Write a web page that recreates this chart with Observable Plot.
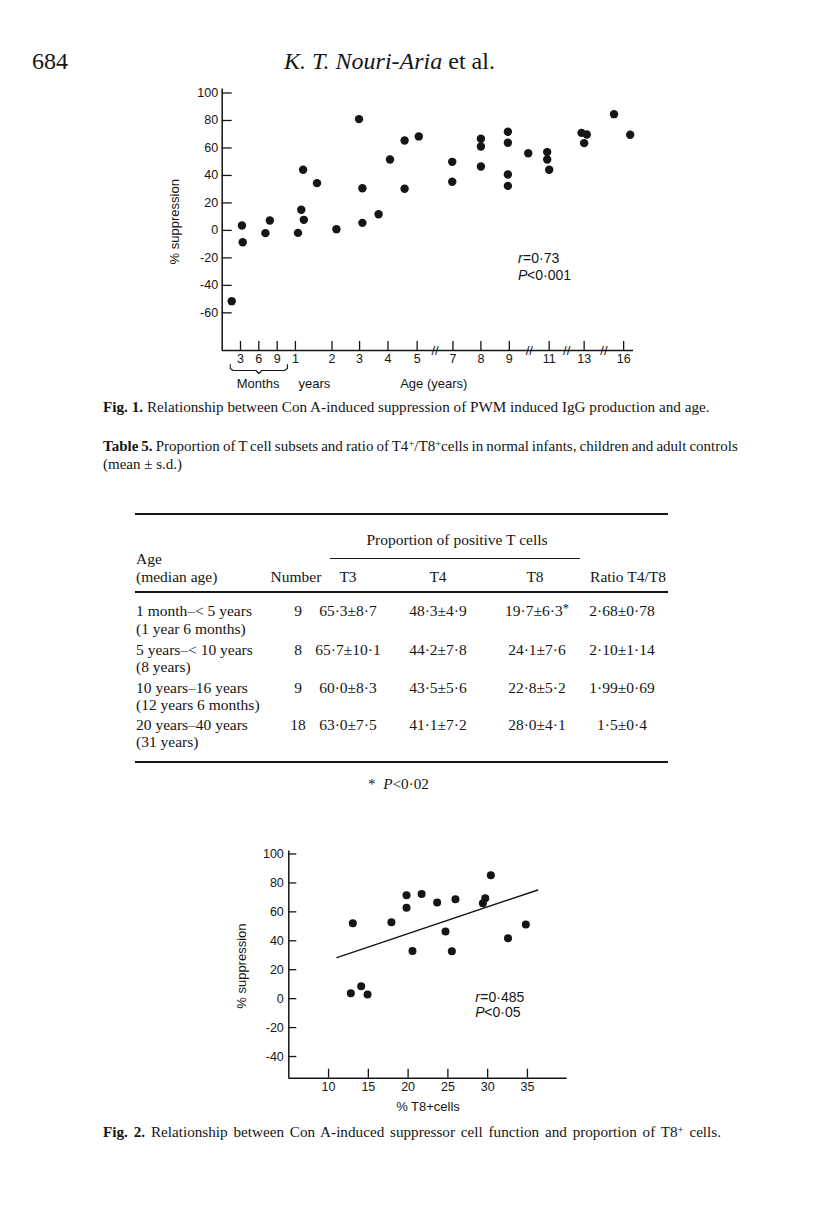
<!DOCTYPE html>
<html>
<head>
<meta charset="utf-8">
<script src="https://cdn.jsdelivr.net/npm/d3@7"></script>
<script src="https://cdn.jsdelivr.net/npm/@observablehq/plot@0.6"></script>
<style>
  html, body { margin: 0; padding: 0; background: #fff; }
  #page { position: relative; width: 816px; height: 1220px; overflow: hidden;
          font-family: "Liberation Serif", "Times New Roman", serif; color: #151515; }
  .t { position: absolute; white-space: nowrap; line-height: 1; }
  .c { text-align: center; transform: translateX(-50%); }
  .rule { position: absolute; background: #151515; }
  sup { font-size: 0.7em; vertical-align: 0; position: relative; top: -0.45em; line-height: 0; }
  #fig1, #fig2 { position: absolute; }
</style>
</head>
<body>
<div id="page">
  <div class="t" style="left:32px; top:49px; font-size:24px;">684</div>
  <div class="t" style="left:284px; top:49px; font-size:24px;"><i>K. T. Nouri-Aria</i> et al.</div>

  <div id="fig1" style="left:150px; top:80px;"></div>

  <div class="t" style="left:103px; top:399.3px; font-size:15.2px;"><b>Fig. 1.</b> Relationship between Con A-induced suppression of PWM induced IgG production and age.</div>

  <div class="t" style="left:103px; top:439.4px; font-size:15px; word-spacing:-0.7px;"><b>Table 5.</b> Proportion of T cell subsets and ratio of T4<sup>+</sup>/T8<sup>+</sup>cells in normal infants, children and adult controls</div>
  <div class="t" style="left:103px; top:457.4px; font-size:15px;">(mean ± s.d.)</div>

  <div id="table"></div>

  <div class="t" style="left:368px; top:776.3px; font-size:15.2px;">*&nbsp; <i>P</i>&lt;0·02</div>

  <div id="fig2" style="left:230px; top:840px;"></div>

  <div class="t" style="left:103px; top:1124.3px; font-size:15.2px; word-spacing:2px;"><b>Fig. 2.</b> Relationship between Con A-induced suppressor cell function and proportion of T8<sup>+</sup> cells.</div>
</div>

<script>
// ---------------- Fig. 1 data: age vs % suppression ----------------
const fig1Age = [0.13, 0.27, 0.28, 0.59, 0.65, 1.07, 1.16, 1.23, 1.21, 1.59,
                 2.16, 2.98, 3.1, 3.1, 3.67, 4.07, 4.57, 4.57, 5.09, 6.96,
                 6.96, 8.0, 8.0, 8.0, 8.95, 8.95, 8.95, 8.95, 9.95, 10.9,
                 10.9, 11.0, 12.85, 13.2, 13.0, 15.27, 16.5];
const fig1Supp = [-51.5, 3.6, -8.6, -2.0, 7.2, -1.8, 15.0, 7.7, 44.1, 34.4,
                  0.9, 81.0, 30.7, 5.5, 11.8, 51.6, 65.4, 30.3, 68.4, 49.9,
                  35.4, 66.7, 61.1, 46.5, 71.8, 63.8, 40.7, 32.4, 56.2, 57.0,
                  51.6, 44.1, 71.0, 69.8, 63.5, 84.6, 69.6];

// broken (piecewise) age axis: break ages and their relative position along the axis
const ageBreaks   = [0, 0.25, 0.5, 0.75, 1, 2, 3, 4, 5, 7, 8, 9, 11, 13, 16, 16.75];
const ageAxisFrac = [0, 0.0445, 0.089, 0.1337, 0.178, 0.267, 0.334, 0.403, 0.474,
                     0.561, 0.629, 0.698, 0.795, 0.880, 0.976, 1];
const ageTicks      = [0.25, 0.5, 0.75, 1, 2, 3, 4, 5, 7, 8, 9, 11, 13, 16];
const ageTickLabels = ["3", "6", "9", "1", "2", "3", "4", "5", "7", "8", "9", "11", "13", "16"];
const ageAxisBreaks = [6, 10, 12, 14.5];
const fig1YTicks = [100, 80, 60, 40, 20, 0, -20, -40, -60];
const fig1YDomain = [-87.4, 100];
const fig1Under = [{x: 0.49, text: "Months"}, {x: 1.52, text: "years"}, {x: 5.93, text: "Age (years)"}];
const fig1Stats = [{x: 9.44, y: -20.5, sym: "r", rest: "=0·73"}, {x: 9.44, y: -32.8, sym: "P", rest: "<0·001"}];
// months bracket: ages along the bracket, depth below the axis in px
const bracketAge  = [0.11, 0.11, 0.15, 0.46, 0.5, 0.54, 0.85, 0.89, 0.89];
const bracketDrop = [14, 18, 20, 20, 23, 20, 20, 18, 14];

// ---------------- Fig. 2 data: % T8+ cells vs % suppression ----------------
const fig2T8   = [13.05, 17.9, 19.8, 19.8, 21.7, 20.55, 23.65, 24.7, 25.5, 25.95,
                  29.4, 29.7, 30.4, 32.56, 34.8, 12.8, 14.1, 14.9];
const fig2Supp = [52.1, 52.8, 71.5, 62.9, 72.4, 33.0, 66.4, 46.4, 32.8, 68.7,
                  65.9, 69.4, 85.3, 41.7, 51.2, 3.75, 8.6, 2.8];
const fig2LineX = [11.05, 36.3];
const fig2LineY = [28.4, 75.1];
const fig2XTicks = [10, 15, 20, 25, 30, 35];
const fig2YTicks = [100, 80, 60, 40, 20, 0, -20, -40];
const fig2XDomain = [5, 40];
const fig2YDomain = [-55, 100];
const fig2Stats = [{x: 28.45, y: 1.0, sym: "r", rest: "=0·485"}, {x: 28.45, y: -9.4, sym: "P", rest: "<0·05"}];

// ---------------- Table 5 data ----------------
const tableAges   = ["1 month–< 5 years", "5 years–< 10 years", "10 years–16 years", "20 years–40 years"];
const tableMedian = ["(1 year 6 months)", "(8 years)", "(12 years 6 months)", "(31 years)"];
const tableNumber = ["9", "8", "9", "18"];
const tableT3     = ["65·3±8·7", "65·7±10·1", "60·0±8·3", "63·0±7·5"];
const tableT4     = ["48·3±4·9", "44·2±7·8", "43·5±5·6", "41·1±7·2"];
const tableT8     = ["19·7±6·3*", "24·1±7·6", "22·8±5·2", "28·0±4·1"];
const tableRatio  = ["2·68±0·78", "2·10±1·14", "1·99±0·69", "1·5±0·4"];

const INK = "#151515";
const FONT = "'Liberation Sans', Arial, sans-serif";
const TICK_FS = 12.5, LABEL_FS = 13, STAT_FS = 14;

// ---------------- Fig. 1 ----------------
{
  const W = 530, H = 315, ml = 71.7, mr = 47, mt = 12.5, mb = 45;
  const xRange = ageAxisFrac.map(f => ml + f * (W - ml - mr));
  const xs = d3.scaleLinear(ageBreaks, xRange);
  const ys = d3.scaleLinear(fig1YDomain, [H - mb, mt]);
  const yMin = fig1YDomain[0];
  const xMax = ageBreaks[ageBreaks.length - 1];
  const axisPx = H - mb;
  const yTickEnd = xs.invert(ml + 10);
  const xTickTop = ys.invert(axisPx - 9);
  const pts = fig1Age.map((a, i) => ({age: a, s: fig1Supp[i]}));
  const bracket = bracketAge.map((a, i) => ({x: a, y: ys.invert(axisPx + bracketDrop[i])}));

  const chart = Plot.plot({
    width: W, height: H, marginLeft: ml, marginRight: mr, marginTop: mt, marginBottom: mb,
    x: {type: "linear", domain: ageBreaks, range: xRange},
    y: {type: "linear", domain: fig1YDomain},
    style: {fontFamily: FONT, fontSize: TICK_FS + "px", color: INK, background: "transparent", overflow: "visible"},
    marks: [
      Plot.ruleX([0], {y1: yMin, y2: ys.invert(mt - 4), stroke: INK, strokeWidth: 1.5}),
      Plot.ruleY([yMin], {x1: 0, x2: xMax, stroke: INK, strokeWidth: 1.5}),
      Plot.ruleY(fig1YTicks, {y: d => d, x1: 0, x2: yTickEnd, stroke: INK, strokeWidth: 1.3}),
      Plot.ruleX(ageTicks, {x: d => d, y1: yMin, y2: xTickTop, stroke: INK, strokeWidth: 1.3}),
      Plot.axisY({ticks: fig1YTicks, tickSize: 0, tickPadding: 4, tickFormat: d => String(d), label: null, fontSize: TICK_FS}),
      Plot.axisX({ticks: ageTicks, tickSize: 0, tickPadding: 3.5, tickFormat: d => ageTickLabels[ageTicks.indexOf(d)], label: null, fontSize: TICK_FS}),
      Plot.text(ageAxisBreaks, {x: d => d, y: yMin, text: () => "//", fontSize: 13, fill: INK}),
      Plot.line(bracket, {x: "x", y: "y", stroke: INK, strokeWidth: 1.1}),
      Plot.text(fig1Under, {x: "x", text: "text", frameAnchor: "bottom", textAnchor: "middle", lineAnchor: "middle", dy: 33, fontSize: LABEL_FS, fill: INK}),
      Plot.text(["% suppression"], {text: d => d, frameAnchor: "left", textAnchor: "middle", lineAnchor: "middle", rotate: -90, dx: -47, fontSize: LABEL_FS, fill: INK}),
      Plot.dot(pts, {x: "age", y: "s", r: 4.2, fill: INK, stroke: "none"}),
      Plot.text(fig1Stats, {x: "x", y: "y", text: "sym", textAnchor: "start", fontStyle: "italic", fontSize: STAT_FS, fill: INK}),
      Plot.text(fig1Stats.slice(0, 1), {x: "x", y: "y", text: "rest", textAnchor: "start", dx: 5, fontSize: STAT_FS, fill: INK}),
      Plot.text(fig1Stats.slice(1), {x: "x", y: "y", text: "rest", textAnchor: "start", dx: 9, fontSize: STAT_FS, fill: INK})
    ]
  });
  document.getElementById("fig1").appendChild(chart);
}

// ---------------- Fig. 2 ----------------
{
  const W = 360, H = 280, ml = 58.3, mr = 23.3, mt = 13.5, mb = 42.3;
  const xs = d3.scaleLinear(fig2XDomain, [ml, W - mr]);
  const ys = d3.scaleLinear(fig2YDomain, [H - mb, mt]);
  const yMin = fig2YDomain[0];
  const axisPx = H - mb;
  const yTickEnd = xs.invert(ml + 8);
  const xTickTop = ys.invert(axisPx - 9);
  const pts = fig2T8.map((t, i) => ({t8: t, s: fig2Supp[i]}));
  const reg = fig2LineX.map((x, i) => ({x, y: fig2LineY[i]}));

  const chart = Plot.plot({
    width: W, height: H, marginLeft: ml, marginRight: mr, marginTop: mt, marginBottom: mb,
    x: {type: "linear", domain: fig2XDomain},
    y: {type: "linear", domain: fig2YDomain},
    style: {fontFamily: FONT, fontSize: TICK_FS + "px", color: INK, background: "transparent", overflow: "visible"},
    marks: [
      Plot.ruleX([fig2XDomain[0]], {y1: yMin, y2: ys.invert(mt - 3), stroke: INK, strokeWidth: 1.5}),
      Plot.ruleY([yMin], {x1: fig2XDomain[0], x2: fig2XDomain[1], stroke: INK, strokeWidth: 1.5}),
      Plot.ruleY(fig2YTicks, {y: d => d, x1: fig2XDomain[0], x2: yTickEnd, stroke: INK, strokeWidth: 1.3}),
      Plot.ruleX(fig2XTicks, {x: d => d, y1: yMin, y2: xTickTop, stroke: INK, strokeWidth: 1.3}),
      Plot.axisY({ticks: fig2YTicks, tickSize: 0, tickPadding: 5, tickFormat: d => String(d), label: null, fontSize: TICK_FS}),
      Plot.axisX({ticks: fig2XTicks, tickSize: 0, tickPadding: 3.5, tickFormat: d => String(d), label: null, fontSize: TICK_FS}),
      Plot.text(["% T8+cells"], {text: d => d, frameAnchor: "bottom", textAnchor: "middle", lineAnchor: "middle", dy: 29, fontSize: LABEL_FS, fill: INK}),
      Plot.text(["% suppression"], {text: d => d, frameAnchor: "left", textAnchor: "middle", lineAnchor: "middle", rotate: -90, dx: -47, fontSize: LABEL_FS, fill: INK}),
      Plot.line(reg, {x: "x", y: "y", stroke: INK, strokeWidth: 1.4}),
      Plot.dot(pts, {x: "t8", y: "s", r: 4, fill: INK, stroke: "none"}),
      Plot.text(fig2Stats, {x: "x", y: "y", text: "sym", textAnchor: "start", fontStyle: "italic", fontSize: STAT_FS, fill: INK}),
      Plot.text(fig2Stats.slice(0, 1), {x: "x", y: "y", text: "rest", textAnchor: "start", dx: 5, fontSize: STAT_FS, fill: INK}),
      Plot.text(fig2Stats.slice(1), {x: "x", y: "y", text: "rest", textAnchor: "start", dx: 9, fontSize: STAT_FS, fill: INK})
    ]
  });
  document.getElementById("fig2").appendChild(chart);
}

// ---------------- Table 5 (HTML text) ----------------
{
  const page = document.getElementById("page");
  const FS = 15.5, asc = 0.8375;
  const add = (html, x, baseline, center) => {
    const d = document.createElement("div");
    d.className = "t" + (center ? " c" : "");
    d.style.left = x + "px";
    d.style.top = (baseline - asc * FS) + "px";
    d.style.fontSize = FS + "px";
    d.innerHTML = html;
    page.appendChild(d);
  };
  const rule = (x1, x2, y, h) => {
    const d = document.createElement("div");
    d.className = "rule";
    d.style.left = x1 + "px"; d.style.width = (x2 - x1) + "px";
    d.style.top = (y - h / 2) + "px"; d.style.height = h + "px";
    page.appendChild(d);
  };
  rule(135, 668, 514, 2);
  rule(330, 580, 558, 1);
  rule(135, 668, 592, 1.3);
  rule(135, 668, 762, 2);

  add("Proportion of positive T cells", 457, 545, true);
  add("Age", 136, 564, false);
  add("(median age)", 136, 582, false);
  add("Number", 296, 582, true);
  add("T3", 348, 582, true);
  add("T4", 438, 582, true);
  add("T8", 535, 582, true);
  add("Ratio T4/T8", 628, 582, true);

  const base1 = [616, 655, 693, 730];
  const base2 = [634, 672, 710, 747];
  const fmt = s => s.replace("*", "<span style='position:relative;top:-0.3em;font-size:0.8em'>*</span>");
  tableAges.forEach((a, i) => {
    add(a, 136, base1[i], false);
    add(tableMedian[i], 136, base2[i], false);
    add(tableNumber[i], 298, base1[i], true);
    add(tableT3[i], 348, base1[i], true);
    add(tableT4[i], 438, base1[i], true);
    add(fmt(tableT8[i]), 537, base1[i], true);
    add(tableRatio[i], 622, base1[i], true);
  });
}
</script>
</body>
</html>
